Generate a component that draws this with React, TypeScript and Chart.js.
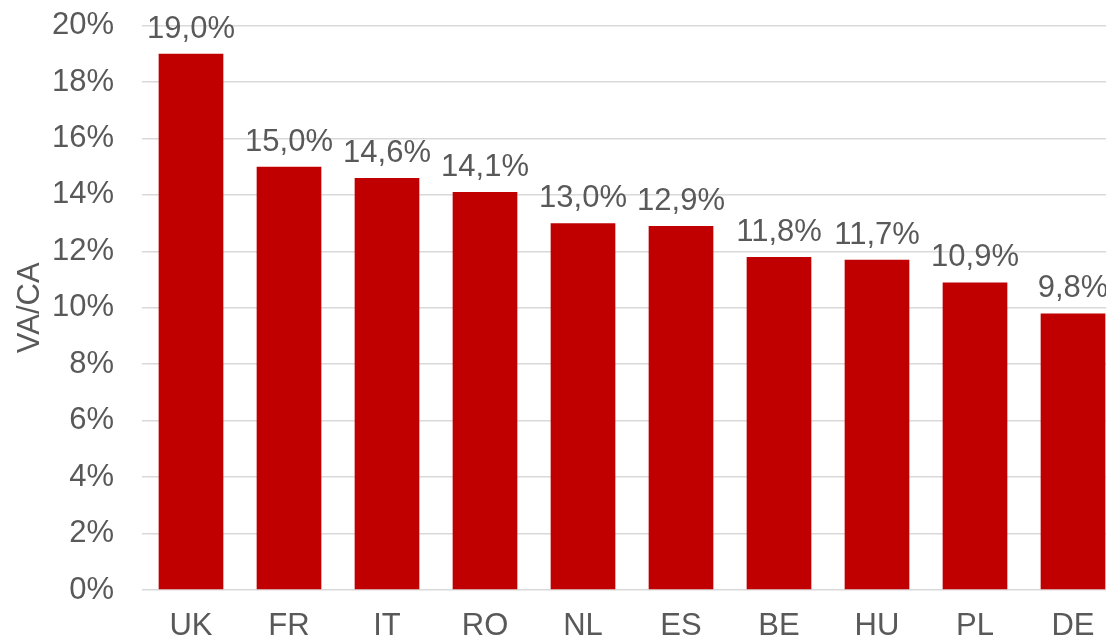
import React, { useEffect, useRef } from "react";
import { Chart, registerables } from "chart.js";

Chart.register(...registerables);

const categories = ["UK", "FR", "IT", "RO", "NL", "ES", "BE", "HU", "PL", "DE"];
const values = [19.0, 15.0, 14.6, 14.1, 13.0, 12.9, 11.8, 11.7, 10.9, 9.8];
const yTicks = [0, 2, 4, 6, 8, 10, 12, 14, 16, 18, 20];

const FONT = "'Liberation Sans', Arial, sans-serif";
const TEXT = "#595959";

const labelPlugin = {
  id: "barLabels",
  afterDatasetsDraw(chart: any) {
    const ctx = chart.ctx;
    const meta = chart.getDatasetMeta(0);
    ctx.save();
    ctx.font = `31px ${FONT}`;
    ctx.fillStyle = TEXT;
    ctx.textAlign = "center";
    ctx.textBaseline = "alphabetic";
    meta.data.forEach((el: any, i: number) => {
      const txt = values[i].toFixed(1).replace(".", ",") + "%";
      ctx.fillText(txt, el.x, el.y - 16);
    });
    ctx.restore();
  },
};

export default function App() {
  const ref = useRef<HTMLCanvasElement>(null);
  useEffect(() => {
    const chart = new Chart(ref.current!, {
      type: "bar",
      data: {
        labels: categories,
        datasets: [
          {
            data: values,
            backgroundColor: "#C00000",
            borderWidth: 0,
            barPercentage: 0.66,
            categoryPercentage: 1,
          },
        ],
      },
      options: {
        animation: false,
        responsive: true,
        maintainAspectRatio: false,
        layout: { padding: { top: 0, left: 0, right: 0, bottom: 0 } },
        plugins: { legend: { display: false }, tooltip: { enabled: false } },
        scales: {
          x: {
            grid: { display: false },
            border: { display: false },
            afterFit: (s: any) => {
              s.height = 51;
            },
            ticks: { color: TEXT, font: { family: FONT, size: 31 }, padding: 10 },
          },
          y: {
            min: 0,
            max: 20,
            afterBuildTicks: (s: any) => {
              s.ticks = yTicks.map((v) => ({ value: v }));
            },
            afterFit: (s: any) => {
              s.width = 142;
            },
            grid: { color: "#d9d9d9", lineWidth: 1.5, drawTicks: false },
            border: { display: false },
            ticks: {
              color: TEXT,
              font: { family: FONT, size: 31 },
              padding: 28,
              callback: (v: any) => v + "%",
            },
            title: {
              display: true,
              text: "VA/CA",
              color: TEXT,
              font: { family: FONT, size: 31 },
              padding: { top: 12, bottom: 0 },
            },
          },
        },
      },
      plugins: [labelPlugin],
    });
    return () => chart.destroy();
  }, []);
  return (
    <div style={{ position: "fixed", left: 0, top: 0, width: 1106, height: 641, overflow: "hidden", background: "#fff" }}>
      <div style={{ position: "absolute", left: 0, top: -21, width: 1122, height: 662 }}>
        <canvas ref={ref} />
      </div>
    </div>
  );
}
